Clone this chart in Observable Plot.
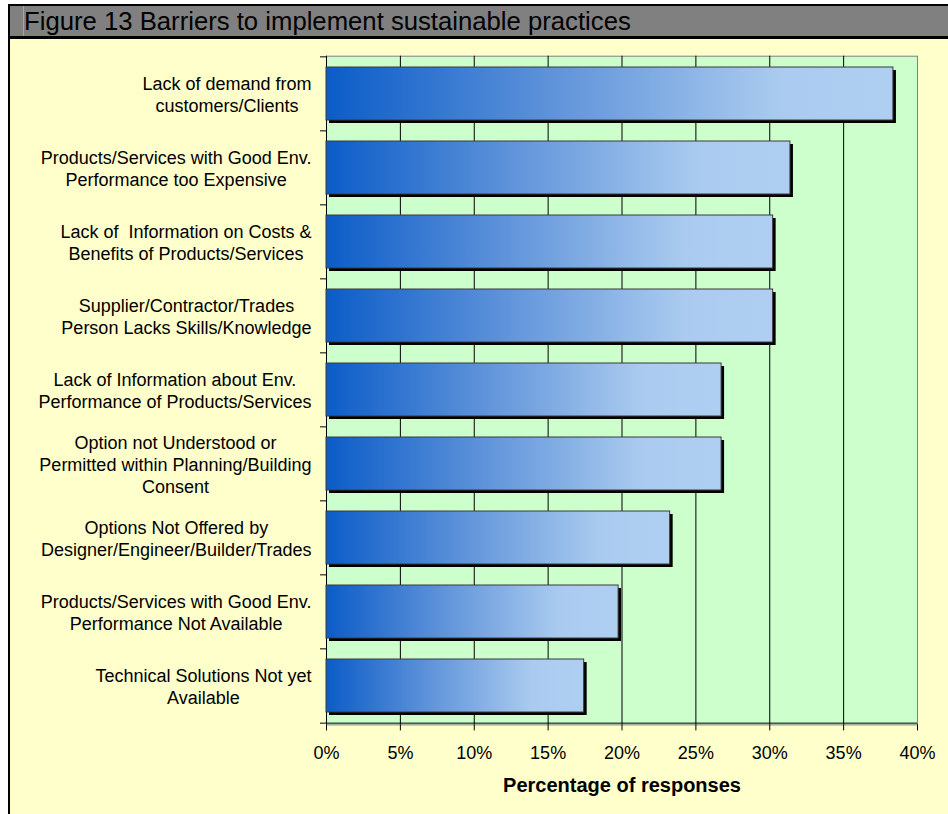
<!DOCTYPE html>
<html><head><meta charset="utf-8">
<script src="https://cdn.jsdelivr.net/npm/d3@7"></script>
<script src="https://cdn.jsdelivr.net/npm/@observablehq/plot@0.6"></script>
<style>
html,body{margin:0;padding:0;background:#fff;width:948px;height:814px;overflow:hidden;font-family:"Liberation Sans",Arial,sans-serif;}
#frame{position:absolute;left:8px;top:4px;width:960px;height:830px;border-left:2px solid #000;background:#FFFFCC;}
#title{position:absolute;left:0;top:0;width:100%;height:30px;border-top:2px solid #000;border-bottom:3px solid #000;background:#808080;}
#title span{position:absolute;left:13px;top:0;height:30px;line-height:30px;font-size:25.7px;color:#000;white-space:nowrap;padding-left:0;border-left:1px solid #a6a6a6;}
#chart{position:absolute;left:0;top:35px;}
</style>
</head><body>
<div id="frame">
  <div id="title"><span>Figure 13 Barriers to implement sustainable practices</span></div>
  <div id="chart"></div>
</div>
<script>
const labels = [
  "Lack of demand from\ncustomers/Clients",
  "Products/Services with Good Env.\nPerformance too Expensive",
  "Lack of \u00a0Information on Costs &\nBenefits of Products/Services",
  "Supplier/Contractor/Trades\nPerson Lacks Skills/Knowledge",
  "Lack of Information about Env.\nPerformance of Products/Services",
  "Option not Understood or\nPermitted within Planning/Building\nConsent",
  "Options Not Offered by\nDesigner/Engineer/Builder/Trades",
  "Products/Services with Good Env.\nPerformance Not Available",
  "Technical Solutions Not yet\nAvailable"
];
const values = [38.37, 31.40, 30.23, 30.23, 26.74, 26.74, 23.26, 19.77, 17.44];
const xTicks = [0, 5, 10, 15, 20, 25, 30, 35, 40];
const gridTicks = [5, 10, 15, 20, 25, 30, 35];
const axisTitle = "Percentage of responses";

const data = labels.map((label, i) => ({label, value: values[i]}));

const W = 938, H = 775, mt = 16.7, mb = 89.6, ml = 316, mr = 31;
const step = (H - mt - mb) / labels.length;
const FONT = '"Liberation Sans", Arial, sans-serif';

const defs = () => {
  const d = d3.create("svg:defs");
  const g = d.append("linearGradient").attr("id", "barGrad")
    .attr("x1", 0).attr("y1", 0).attr("x2", 1).attr("y2", 0);
  g.append("stop").attr("offset", 0).attr("stop-color", "#0B5CC8");
  g.append("stop").attr("offset", 0.4).attr("stop-color", "#5F93DA");
  g.append("stop").attr("offset", 0.8).attr("stop-color", "#AACBEF");
  g.append("stop").attr("offset", 1).attr("stop-color", "#AFCFF2");
  return d.node();
};

const chart = Plot.plot({
  width: W, height: H,
  marginTop: mt, marginBottom: mb, marginLeft: ml, marginRight: mr,
  style: {background: "transparent", fontFamily: FONT, fontSize: "18px", color: "#000", overflow: "visible"},
  x: {domain: [0, 40], label: null},
  y: {domain: labels, paddingInner: 0.28, paddingOuter: 0.14, label: null},
  marks: [
    defs,
    Plot.frame({fill: "#CCFFCC", stroke: "#808080"}),
    Plot.gridX(gridTicks, {stroke: "#000", strokeOpacity: 1}),
    Plot.ruleX([0], {stroke: "#000"}),
    Plot.ruleY([labels[labels.length - 1]], {stroke: "#000", dy: step / 2}),
    Plot.axisY({ticks: labels, tickSize: 6, tickFormat: () => "", dy: -step / 2, stroke: "#000"}),
    Plot.axisY({ticks: [labels[labels.length - 1]], tickSize: 6, tickFormat: () => "", dy: step / 2, stroke: "#000"}),
    Plot.axisX({ticks: xTicks, tickSize: 6, tickPadding: 15.6, tickFormat: d => d + "%", fontSize: 18, stroke: "#000", fill: "#000"}),
    Plot.barX(data, {x: "value", y: "label", fill: "#000", dx: 3, dy: 3}),
    Plot.barX(data, {x: "value", y: "label", fill: "url(#barGrad)", stroke: "#3a3a3a", strokeWidth: 1}),
    Plot.text(data, {x: 0, y: "label", text: "label", textAnchor: "end", dx: -15, fontSize: 18, lineHeight: 22 / 18, fill: "#000"}),
    Plot.text([axisTitle], {frameAnchor: "bottom", lineAnchor: "bottom", dy: 66.6, fontSize: 20, fontWeight: "bold", fill: "#000"})
  ]
});

document.getElementById("chart").append(chart);

// center each multi-line label block on itself, keeping its right edge
chart.querySelectorAll('g[aria-label="text"]').forEach(g => {
  const texts = Array.from(g.querySelectorAll("text"));
  if (texts.length !== labels.length) return;
  const centers = texts.map(t => { const bb = t.getBBox(); return bb.x + bb.width / 2; });
  g.setAttribute("text-anchor", "middle");
  texts.forEach((t, i) => {
    t.setAttribute("text-anchor", "middle");
    const spans = t.querySelectorAll("tspan");
    if (spans.length) spans.forEach(s => s.setAttribute("x", centers[i]));
    else t.setAttribute("x", centers[i]);
  });
});
</script>
</body></html>
